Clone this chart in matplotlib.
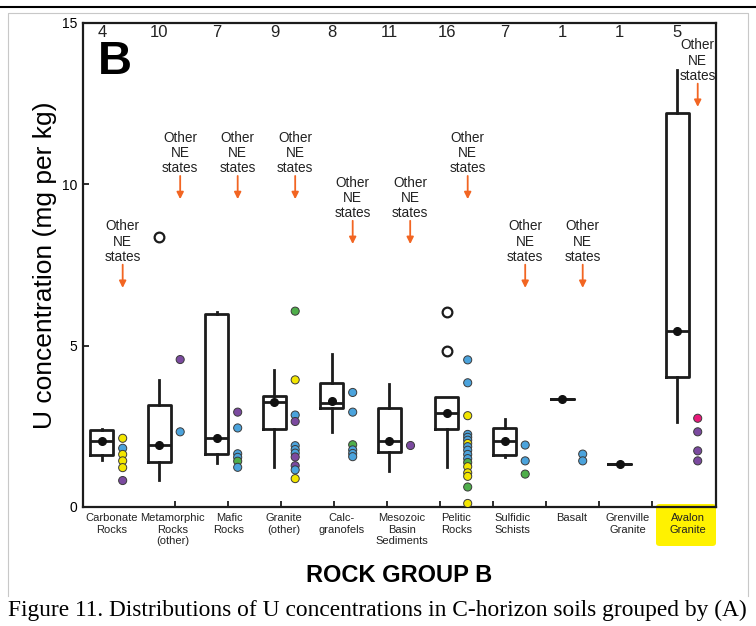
import numpy as np
import matplotlib
matplotlib.use("Agg")
import matplotlib.pyplot as plt
import matplotlib.transforms as mtransforms
from matplotlib.patches import FancyBboxPatch
from matplotlib.lines import Line2D

plt.rcParams['font.family'] = ['Liberation Sans', 'DejaVu Sans']

# --- data (U, mg per kg) ---
groups = ["Carbonate\nRocks", "Metamorphic\nRocks\n(other)", "Mafic\nRocks",
          "Granite\n(other)", "Calc-\ngranofels", "Mesozoic\nBasin\nSediments",
          "Pelitic\nRocks", "Sulfidic\nSchists", "Basalt", "Grenville\nGranite",
          "Avalon\nGranite"]
counts = [4, 10, 7, 9, 8, 11, 16, 7, 1, 1, 5]

whis_lo = [1.45, 0.84, 1.35, 1.23, 2.33, 1.13, 1.23, 1.54, 3.36, 1.32, 2.64]
q1 = [1.60, 1.40, 1.64, 2.43, 3.08, 1.71, 2.42, 1.61, 3.36, 1.32, 4.04]
med = [2.03, 1.93, 2.14, 3.24, 3.21, 2.03, 2.90, 2.03, 3.36, 1.32, 5.46]
q3 = [2.38, 3.15, 5.97, 3.45, 3.84, 3.06, 3.42, 2.45, 3.36, 1.32, 12.22]
whis_hi = [2.42, 3.94, 6.03, 4.25, 4.74, 3.81, 3.42, 2.73, 3.36, 1.32, 13.54]
centre_dot = [2.03, 1.93, 2.14, 3.24, 3.30, 2.03, 2.90, 2.03, 3.36, 1.32, 5.46]
outliers = [[], [8.38], [], [], [], [], [6.05, 4.85], [], [], [], []]

# other NE states, values and colour codes per group
other_vals = [
    [2.13, 1.82, 1.63, 1.43, 1.22, 0.82],
    [4.57, 2.33],
    [2.94, 2.45, 1.65, 1.54, 1.42, 1.23],
    [6.07, 3.94, 2.85, 2.65, 1.90, 1.78, 1.67, 1.55, 1.28, 1.15, 0.88],
    [3.55, 2.94, 1.93, 1.77, 1.66, 1.56],
    [1.93],
    [4.56, 3.85, 2.83, 2.25, 2.16, 2.07, 1.97, 1.87, 1.76, 1.63, 1.50, 1.38,
     1.25, 1.06, 0.95, 0.62, 0.11],
    [1.92, 1.43, 1.02],
    [1.64, 1.43],
    [],
    [2.75, 2.33, 1.74, 1.43],
]
other_cols = [
    "ybyyyp", "pb", "pbbbgb", "gybpbbbppby", "bbgbbb", "p",
    "bbybbbybbbbgyyygy", "bbg", "bb", "", "mppp",
]
# tip of the "Other NE states" arrow per group (None = no note)
note_tip = [6.79, 9.54, 9.54, 9.54, 8.15, 8.15, 9.54, 6.79, 6.79, None, 12.4]

palette = {"b": "#4ba3dc", "y": "#f3e600", "p": "#7b4a9f",
           "g": "#4fae4a", "m": "#e8197a"}
ink = "#1c1c1c"
orange = "#f26522"
# horizontal shift of each group label from its box, in category units
label_shift = [0.16, 0.23, 0.21, 0.16, 0.17, 0.21, 0.16, 0.14, 0.17, 0.14, 0.19]

fig = plt.figure(figsize=(7.56, 6.26), dpi=100)
ax = fig.add_axes([83 / 756, 1 - 507 / 626, 633 / 756, 484 / 626])
ax.set_facecolor("none")

pos = np.arange(len(groups))
stats = []
for i in range(len(groups)):
    stats.append(dict(med=med[i], q1=q1[i], q3=q3[i],
                      whislo=whis_lo[i], whishi=whis_hi[i], fliers=[]))
ax.bxp(stats, positions=pos, widths=0.4, showcaps=False, showfliers=False,
       boxprops=dict(color=ink, lw=2),
       whiskerprops=dict(color=ink, lw=2),
       medianprops=dict(color=ink, lw=2), manage_ticks=False)
ax.plot(pos, centre_dot, "o", color="#111111", ms=5.5, zorder=4)

for i, vals in enumerate(outliers):
    if vals:
        ax.plot([i] * len(vals), vals, "o", mfc="white", mec=ink, ms=7,
                mew=1.6, zorder=4)

off = 0.36
for i, vals in enumerate(other_vals):
    if not vals:
        continue
    cols = [palette[c] for c in other_cols[i]]
    ax.scatter([i + off] * len(vals), vals, s=34, c=cols, edgecolors="#3a3a3a",
               linewidths=0.7, zorder=3)

for i, tip in enumerate(note_tip):
    if tip is None:
        continue
    ax.annotate("", xy=(i + off, tip), xytext=(i + off, tip + 0.72),
                arrowprops=dict(arrowstyle="-|>", color=orange, lw=1.3,
                                mutation_scale=10, shrinkA=0, shrinkB=0))
    ax.text(i + off, tip + 0.74, "Other\nNE\nstates", ha="center", va="bottom",
            fontsize=9.8, linespacing=1.12, color="#222222")

for i, n in enumerate(counts):
    ax.text(i, 14.72, str(n), ha="center", va="center", fontsize=12,
            color="#222222")

ax.text(0.0237, 0.965, "B", transform=ax.transAxes, ha="left", va="top",
        fontsize=34, fontweight="bold")

ax.set_xlim(-0.33, 10.678)
ax.set_ylim(0, 15)
ax.set_yticks([0, 5, 10, 15])
ax.set_xticks(np.linspace(1.27, 9.565, 10))
ax.set_xticklabels([])
ax.tick_params(direction="in", length=4, width=1.3, labelsize=10, pad=4,
               color=ink)
for sp in ax.spines.values():
    sp.set_linewidth(1.6)
    sp.set_color(ink)

trans = mtransforms.blended_transform_factory(ax.transData, ax.transAxes)
for i, g in enumerate(groups):
    ax.text(i + label_shift[i], -0.013, g, transform=trans, ha="center",
            va="top", fontsize=8.0, linespacing=1.2, color="#222222")

ax.set_ylabel("U concentration (mg per kg)", fontsize=19)
ax.yaxis.set_label_coords(-0.041, 0.5)

fig.text(0.528, 1 - 575 / 626, "ROCK GROUP B", ha="center", va="center",
         fontsize=17, fontweight="bold")
fig.text(8 / 756, 1 - 610 / 626,
         "Figure 11. Distributions of U concentrations in C-horizon soils grouped by (A)",
         ha="left", va="center", fontsize=16.8, family="Liberation Serif")

# yellow highlight behind the Avalon label
fig.add_artist(FancyBboxPatch((656 / 756, 1 - 546 / 626), 60 / 756, 42 / 626,
                              boxstyle="round,pad=0,rounding_size=0.005",
                              transform=fig.transFigure, fc="#fff200",
                              ec="none", zorder=-1))

# page frame of the screenshot
fig.add_artist(Line2D([0, 1], [1 - 7 / 626] * 2, transform=fig.transFigure,
                      color="black", lw=1.5))
fig.add_artist(Line2D([8 / 756, 8 / 756, 748 / 756, 748 / 756],
                      [1 - 596 / 626, 1 - 13 / 626, 1 - 13 / 626, 1 - 596 / 626],
                      transform=fig.transFigure, color="#c8c8c8", lw=0.8))

fig.savefig("out.png", dpi=100)
